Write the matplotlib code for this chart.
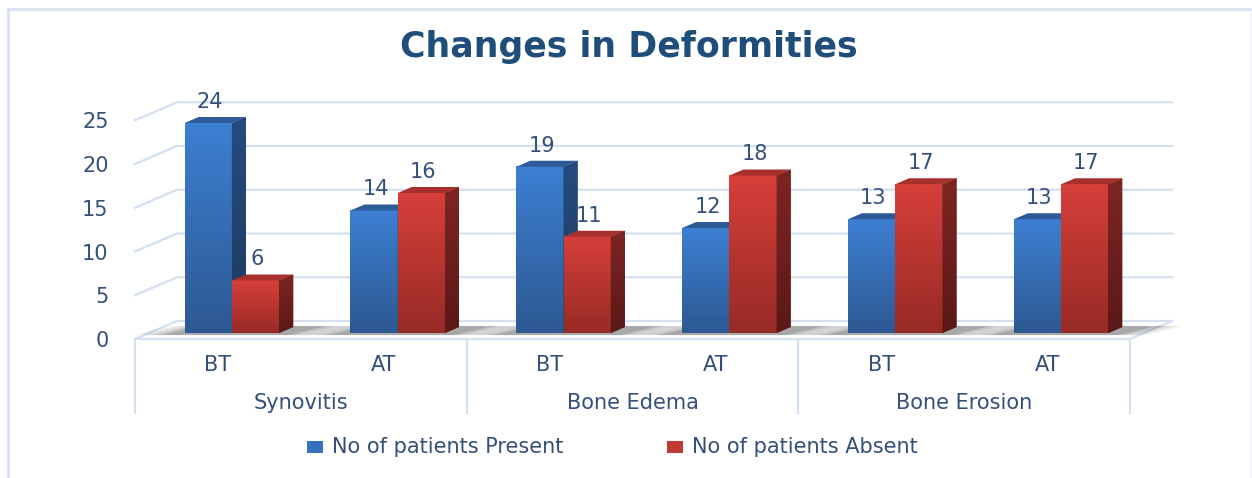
import numpy as np
import matplotlib.pyplot as plt
from matplotlib.patches import Polygon, Rectangle
from matplotlib.lines import Line2D
from matplotlib.colors import LinearSegmentedColormap

groups = ['Synovitis', 'Bone Edema', 'Bone Erosion']
stages = ['BT', 'AT', 'BT', 'AT', 'BT', 'AT']
present = [24, 14, 19, 12, 13, 13]
absent = [6, 16, 11, 18, 17, 17]
series_names = ['No of patients Present', 'No of patients Absent']
yticks = [0, 5, 10, 15, 20, 25]

W, H = 1252, 478
fig = plt.figure(figsize=(W / 100, H / 100), dpi=100)

# front floor edge runs 135..1130 px, 8.75 px per unit, zero at 339 px from top
ppu = 8.75
y0_px = 339
ax = fig.add_axes([135 / W, (H - y0_px) / H, (1130 - 135) / W, 25 * ppu / H])

n = len(stages)
DX = 42 * n / 995.0      # depth offset in x units
DY = 18 / ppu            # depth offset in y units
d1, d2 = 1 / 3, 2 / 3    # bars sit in the middle third of the depth
bw = 0.285

grid_c = '#D3E0F1'
txt_c = '#34507A'
fs = 15

# palettes: front bottom, front top, top face, side bottom, side top
blue = ['#2D5993', '#3D7FD2', '#2C5B97', '#1D3A60', '#254C7F']
red = ['#982A26', '#D63F3A', '#A8302C', '#5A1917', '#7E2522']


def P(x, y, d):
    return (x + d * DX, y + d * DY)


# back wall grid lines
for v in yticks:
    ax.plot([-0.5, -0.5 + DX, n - 0.5 + DX], [v, v + DY, v + DY],
            color=grid_c, lw=1.6, clip_on=False, zorder=1)
# floor edges
ax.plot([-0.5, n - 0.5, n - 0.5 + DX], [0, 0, DY], color=grid_c, lw=1.6,
        clip_on=False, zorder=1)

# category table below the floor
ybot = -(413 - y0_px) / ppu
for xv in [-0.5, 1.5, 3.5, 5.5]:
    ax.plot([xv, xv], [0, ybot], color=grid_c, lw=1.6, clip_on=False, zorder=1)
for i, s in enumerate(stages):
    ax.text(i, -(365 - y0_px) / ppu, s, ha='center', va='center',
            fontsize=fs, color=txt_c)
for g, name in enumerate(groups):
    ax.text(2 * g + 0.5, -(403 - y0_px) / ppu, name, ha='center', va='center',
            fontsize=fs, color=txt_c)

z = 3
for i in range(n):
    # soft floor shadow under the pair
    for k, a in enumerate([0.05, 0.07, 0.09, 0.12, 0.16]):
        grow = 0.045 * (5 - k)
        xl = i - bw - grow - 0.06
        xr = i + bw + grow + 0.04
        shp = [P(xl, 0, 0.22), P(xr, 0, 0.22), P(xr + 0.1, 0, 0.72), P(xl + 0.1, 0, 0.72)]
        ax.add_patch(Polygon(shp, closed=True, facecolor='#303030', edgecolor='none',
                             alpha=a, zorder=2, clip_on=False))
    for j, (val, pal) in enumerate([(present[i], blue), (absent[i], red)]):
        xl = i - bw + j * bw
        xr = xl + bw
        # front face with vertical gradient
        fx0, fy0 = P(xl, 0, d1)
        fx1, fy1 = P(xr, val, d1)
        cmap = LinearSegmentedColormap.from_list('f', [pal[0], pal[1]])
        ax.imshow(np.linspace(0, 1, 64).reshape(-1, 1), cmap=cmap, origin='lower',
                  extent=[fx0, fx1, fy0, fy1], aspect='auto', zorder=z,
                  clip_on=False, interpolation='bilinear')
        # side face
        side = [P(xr, 0, d1), P(xr, val, d1), P(xr, val, d2), P(xr, 0, d2)]
        sp = Polygon(side, closed=True, facecolor=pal[3], edgecolor='none',
                     zorder=z, clip_on=False)
        ax.add_patch(sp)
        scmap = LinearSegmentedColormap.from_list('s', [pal[3], pal[4]])
        sx0 = P(xr, 0, d1)[0]
        sx1 = P(xr, 0, d2)[0]
        im = ax.imshow(np.linspace(0, 1, 64).reshape(-1, 1), cmap=scmap, origin='lower',
                       extent=[sx0, sx1, P(xr, 0, d1)[1], P(xr, val, d2)[1]],
                       aspect='auto', zorder=z + 0.1, interpolation='bilinear')
        im.set_clip_path(sp)
        # top face
        top = [P(xl, val, d1), P(xr, val, d1), P(xr, val, d2), P(xl, val, d2)]
        ax.add_patch(Polygon(top, closed=True, facecolor=pal[2], edgecolor='none',
                             zorder=z + 0.2, clip_on=False))
        # value label, centred over the front face
        lx = (xl + xr) / 2 + d1 * DX + 0.01
        ly = val + d2 * DY + 0.6
        ax.text(lx, ly, str(val), ha='center', va='bottom', fontsize=fs,
                color=txt_c, zorder=20)
        z += 1

ax.set_xlim(-0.5, n - 0.5)
ax.set_ylim(0, 25)
ax.set_yticks(yticks)
ax.set_xticks([])
ax.tick_params(axis='y', length=0, pad=19, labelsize=fs, labelcolor=txt_c)
for sp_ in ax.spines.values():
    sp_.set_visible(False)
ax.patch.set_alpha(0)

# title
fig.text(629 / W, 1 - 47 / H, 'Changes in Deformities', ha='center', va='center',
         fontsize=25, fontweight='bold', color='#1F4E7A')

# legend, built by hand so the keys land where the reference has them
leg_y = 1 - 447 / H
for (x_sq, x_txt), name, col in zip([(307, 332), (667, 692)], series_names,
                                    ['#3470BE', '#C23934']):
    fig.add_artist(Rectangle((x_sq / W, leg_y - 6 / H), 16 / W, 12 / H,
                             transform=fig.transFigure, facecolor=col, edgecolor='none'))
    fig.text(x_txt / W, leg_y, name, ha='left', va='center', fontsize=fs,
             color=txt_c)

# outer chart frame
fc = '#D6E2F2'
fig.add_artist(Line2D([8 / W, 8 / W], [0, 1 - 9 / H], transform=fig.transFigure, color=fc, lw=2))
fig.add_artist(Line2D([8 / W, 1], [1 - 9 / H, 1 - 9 / H], transform=fig.transFigure, color=fc, lw=2))
fig.add_artist(Line2D([1250.5 / W, 1250.5 / W], [0, 1 - 9 / H], transform=fig.transFigure,
                      color='#EEF2F8', lw=1))

fig.savefig('out.png', dpi=100)
